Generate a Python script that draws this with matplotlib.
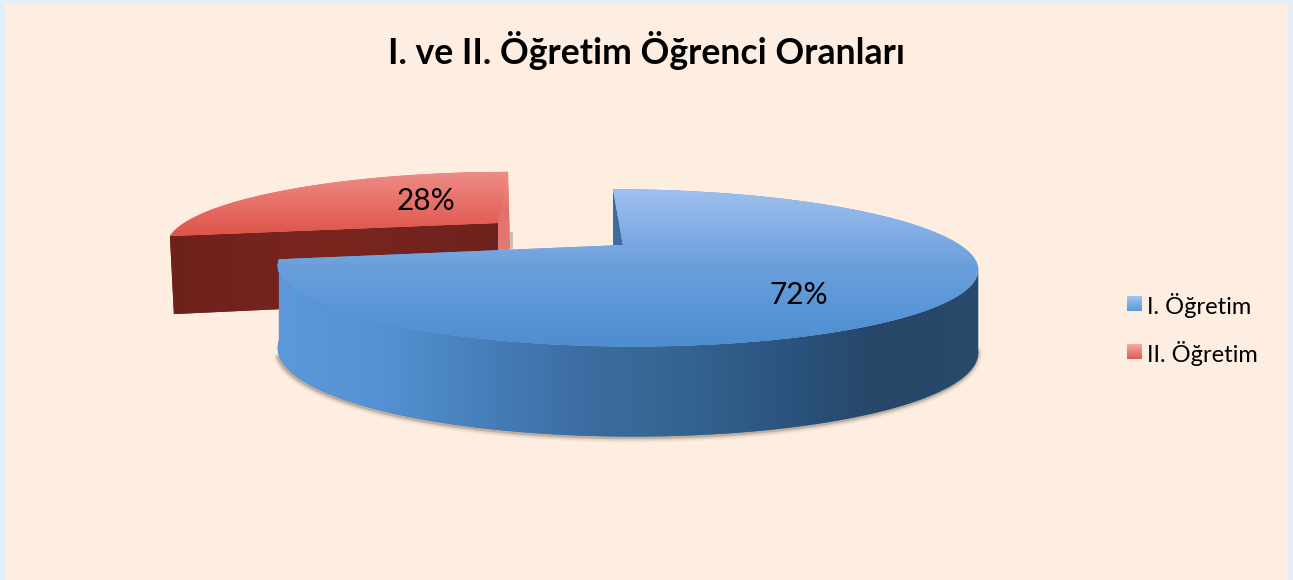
import numpy as np
import matplotlib
matplotlib.use("Agg")
import matplotlib.pyplot as plt
from matplotlib.colors import LinearSegmentedColormap
from matplotlib.patches import Polygon, Rectangle

plt.rcParams['font.family'] = ['Lato', 'DejaVu Sans']

# data
title = "I. ve II. Öğretim Öğrenci Oranları"
categories = ["I. Öğretim", "II. Öğretim"]
shares = [72, 28]
share_labels = ["72%", "28%"]

W, H = 1293, 580
fig = plt.figure(figsize=(W / 100, H / 100), dpi=100, facecolor="#E4EEF9")
ax = fig.add_axes([0, 0, 1, 1])
ax.set_axis_off()


def rim(t, cx, cy, rl, rr, h, skew, k=0.291):
    # projected point of the pie rim, t in degrees, with a bit of perspective
    x = np.cos(np.radians(t))
    y = np.sin(np.radians(t))
    w = 1 / (1 + k * y)
    r = np.where(x < 0, rl, rr)
    return cx + r * x * w + skew * y, cy - h * y * w, y


def drop(yy, base, extra):
    # wall height gets larger towards the viewer
    return base - extra * yy


def gradient(stops, extent, clip, z, vertical=True):
    cmap = LinearSegmentedColormap.from_list("g", stops)
    g = np.linspace(0, 1, 256)
    arr = g[:, None] if vertical else g[None, :]
    im = ax.imshow(arr, cmap=cmap, extent=extent, origin="upper", aspect="auto",
                   interpolation="bilinear", zorder=z)
    im.set_clip_path(clip)


ax.add_patch(Rectangle((5, 3), W - 10, H, fc="#FEEDE1", ec="none", zorder=0))

# slice angles come from the shares, clockwise from 12 o'clock
blue_end = 90 - 360 * shares[0] / sum(shares)
red_start = blue_end + 360
red_end = red_start - 360 * shares[1] / sum(shares)

# red slice, moved out to the upper left
r_cx, r_cy = 498, 223
r_t = np.linspace(red_start, red_end, 120)
rx, ry, ryy = rim(r_t, r_cx, r_cy, 314, 330, 66, 10)
r_lx, r_ly = rx[0], ry[0]
r_base = 76

front = Polygon([(r_cx, r_cy), (r_lx, r_ly), (r_lx + 4, r_ly + r_base + 2), (r_cx, r_cy + r_base)],
                closed=True, fc="#73241D", ec="none", zorder=2)
ax.add_patch(front)
gradient(["#6E211B", "#7A261F", "#6E221C"], (r_lx, r_cx, 320, 220), front, 2.1, vertical=False)

inner = Polygon([(r_cx, r_cy), (rx[-1], ry[-1]), (rx[-1] + 2, r_cy + 24), (r_cx, r_cy + r_base)],
                closed=True, fc="#E8827B", ec="none", zorder=3)
ax.add_patch(inner)
gradient(["#EE9792", "#E5706A", "#DF7C74"], (r_cx, rx[-1] + 2, r_cy + 26, ry[-1]), inner, 3.1)
ax.plot([rx[-1] + 3, rx[-1] + 3], [r_cy + 10, r_cy + 24], color="#6A5A4C", lw=2, alpha=0.35, zorder=2.5)

r_top = Polygon(np.vstack([[r_cx, r_cy], np.c_[rx, ry]]), closed=True, fc="#E5605A", ec="none", zorder=4)
ax.add_patch(r_top)
gradient(["#EE8E8A", "#E76F68", "#DD5248"], (165, 510, 238, 170), r_top, 4.1)

# blue slice
b_cx, b_cy = 623, 245
b_t = np.linspace(90, blue_end, 400)
bx, by, byy = rim(b_t, b_cx, b_cy, 333, 337, 72, -10)

# side wall from the left corner round the front to the right extreme
s_t = np.linspace(blue_end, -17, 300)
sx, sy, syy = rim(s_t, b_cx, b_cy, 333, 337, 72, -10)
sd = drop(syy, 79, 11)
side_pts = np.vstack([np.c_[sx, sy], np.c_[sx[::-1], (sy + sd)[::-1]]])

# soft shadow under the wall
low = np.c_[sx - 1, sy + sd + 1]
for lw, a in zip([7, 5, 3, 2], [0.06, 0.09, 0.12, 0.18]):
    ax.plot(low[20:, 0], low[20:, 1], color="#5A4A3C", lw=lw, alpha=a, zorder=5, solid_capstyle="round")

side = Polygon(side_pts, closed=True, fc="#3A6EA5", ec="none", zorder=6)
ax.add_patch(side)
gradient(["#5C98DA", "#5592D3", "#4680BC", "#3C6DA3", "#346591", "#2C5580", "#264767", "#2A4A6C"],
         (277, 980, 440, 255), side, 6.1, vertical=False)

b_in = Polygon([(bx[0], by[0]), (b_cx, b_cy), (bx[0], b_cy)], closed=True, fc="#3F6C9E", ec="none", zorder=3)
ax.add_patch(b_in)

b_top = Polygon(np.vstack([[b_cx, b_cy], np.c_[bx, by]]), closed=True, fc="#5F9BDD", ec="none", zorder=7)
ax.add_patch(b_top)
gradient(["#A0C2EE", "#86B0E6", "#6A9FDC", "#5A96D8", "#4C8DD0"], (270, 985, 348, 185), b_top, 7.1)

# data labels
ax.text(799, 295, share_labels[0], fontsize=21.5, ha="center", va="center", color="black", zorder=10)
ax.text(426, 201, share_labels[1], fontsize=21.5, ha="center", va="center", color="black", zorder=10)

ax.text(646, 51, title, fontsize=25.7, fontweight="bold", ha="center", va="center", color="black", zorder=10)

# legend
swatches = [["#A3C6F2", "#5B98DA"], ["#F8A9A5", "#DC5B50"]]
for name, sw, y0 in zip(categories, swatches, [296, 344]):
    box = Rectangle((1127, y0), 15, 15, fc=sw[1], ec="none", zorder=9)
    ax.add_patch(box)
    gradient(sw, (1127, 1142, y0 + 15, y0), box, 9.1)
    ax.text(1147, y0 + 9, name, fontsize=17, ha="left", va="center", color="black", zorder=10)

ax.set_xlim(0, W)
ax.set_ylim(H, 0)
fig.savefig("out.png", dpi=100, facecolor=fig.get_facecolor())
